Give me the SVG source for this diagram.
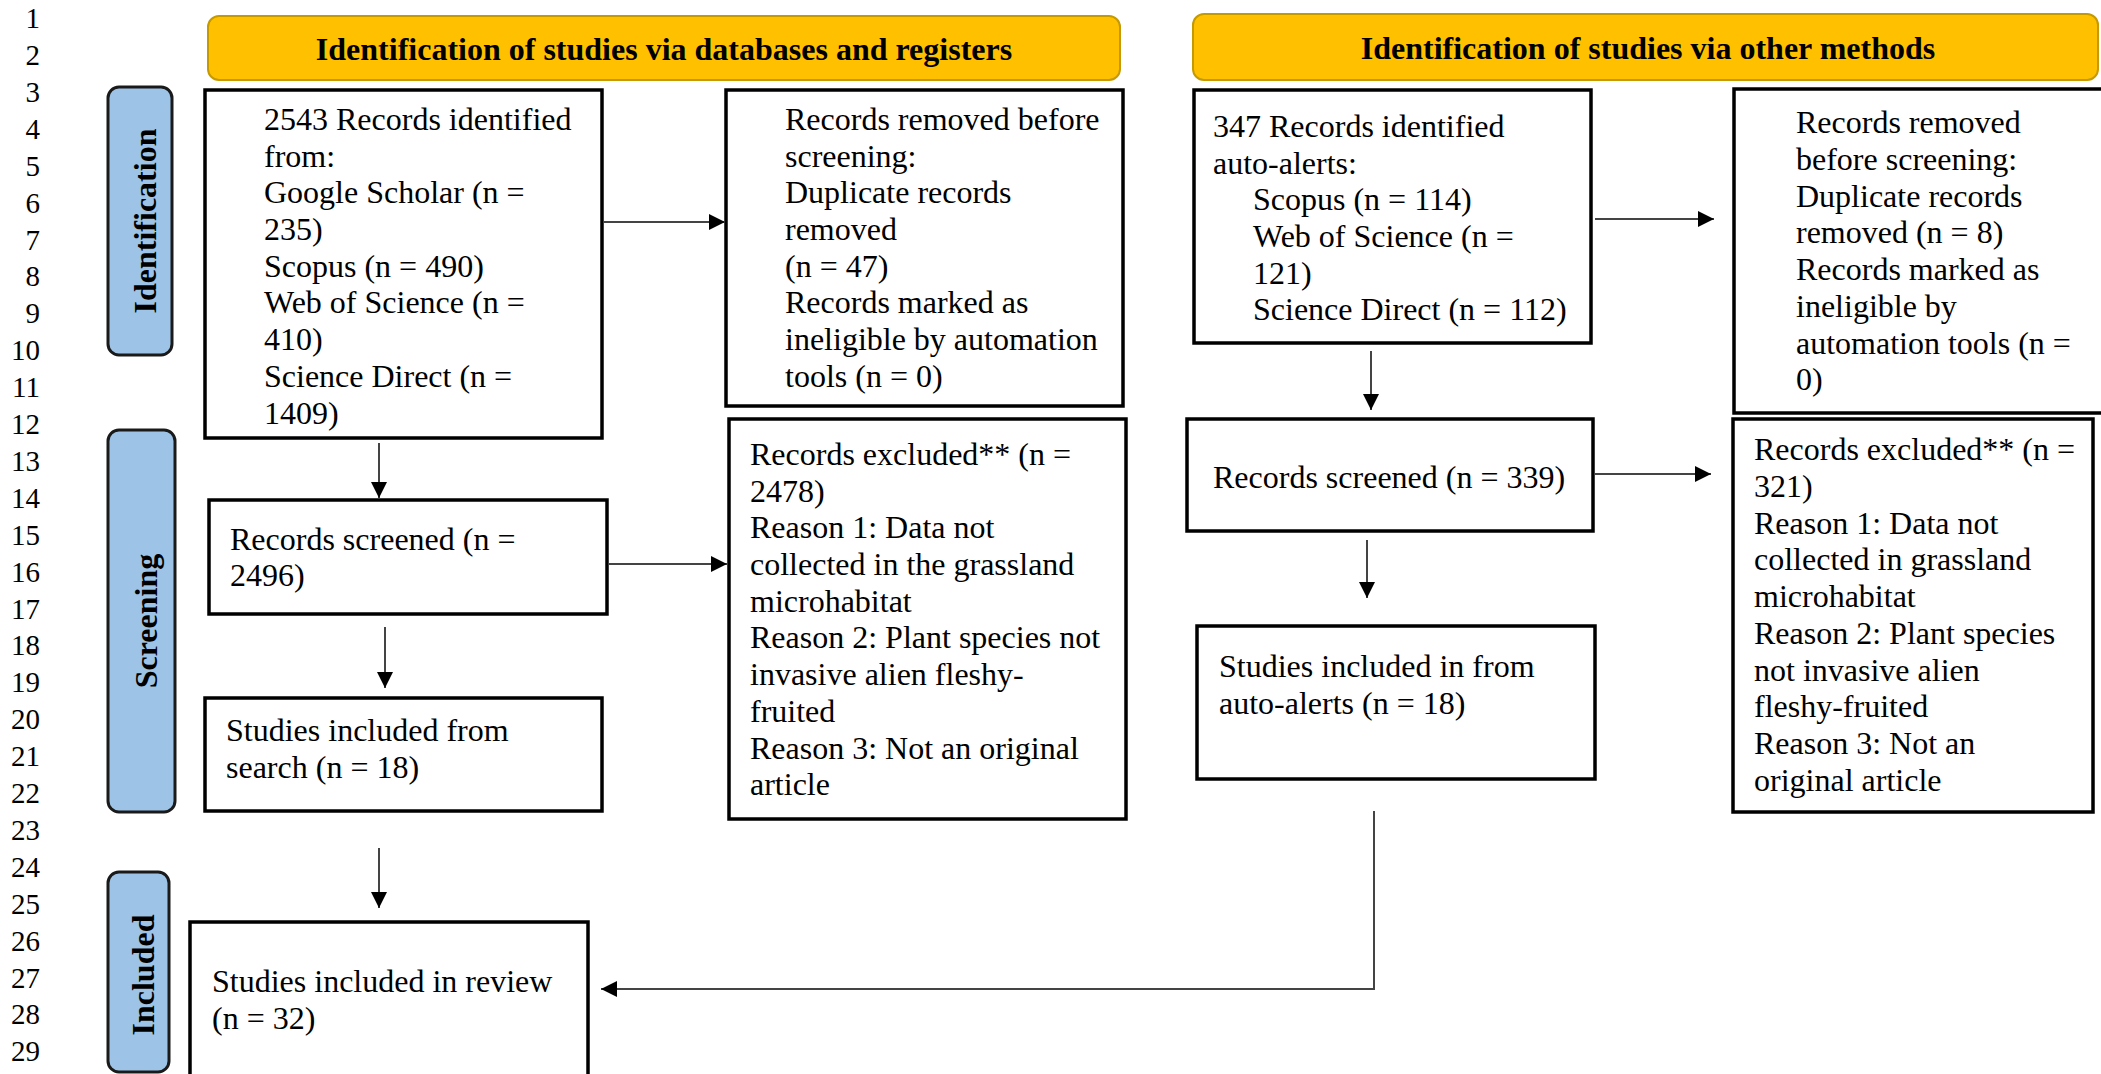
<svg xmlns="http://www.w3.org/2000/svg" width="2101" height="1074" viewBox="0 0 2101 1074">
<style>
  .ln { font-family: "Liberation Serif", "Times New Roman", serif; font-size: 29px; fill: #000; text-anchor: end; }
  .t { font-family: "Liberation Serif", "Times New Roman", serif; font-size: 32px; fill: #000; }
  .hd { font-family: "Liberation Serif", "Times New Roman", serif; font-size: 32px; font-weight: bold; fill: #000; text-anchor: middle; }
  .side { font-family: "Liberation Serif", "Times New Roman", serif; font-size: 32px; font-weight: bold; fill: #000; text-anchor: middle; }
  .box { fill: #fff; stroke: #000; stroke-width: 3.5; }
  .hdr { fill: #FFC000; stroke: #C49A00; stroke-width: 2; }
  .lab { fill: #9DC3E6; stroke: #1a1a1a; stroke-width: 3; }
  .con { fill: none; stroke: #444; stroke-width: 2; }
</style>
<defs>
  <marker id="ah" viewBox="0 0 16 16" refX="16" refY="8" markerWidth="16" markerHeight="16" markerUnits="userSpaceOnUse" orient="auto">
    <path d="M0,0 L16,8 L0,16 z" fill="#000"/>
  </marker>
</defs>
<rect width="2101" height="1074" fill="#fff"/>

<g id="line-numbers" class="ln">
  <text x="40" y="28">1</text>
  <text x="40" y="65">2</text>
  <text x="40" y="102">3</text>
  <text x="40" y="139">4</text>
  <text x="40" y="176">5</text>
  <text x="40" y="213">6</text>
  <text x="40" y="250">7</text>
  <text x="40" y="286">8</text>
  <text x="40" y="323">9</text>
  <text x="40" y="360">10</text>
  <text x="40" y="397">11</text>
  <text x="40" y="434">12</text>
  <text x="40" y="471">13</text>
  <text x="40" y="508">14</text>
  <text x="40" y="545">15</text>
  <text x="40" y="582">16</text>
  <text x="40" y="619">17</text>
  <text x="40" y="655">18</text>
  <text x="40" y="692">19</text>
  <text x="40" y="729">20</text>
  <text x="40" y="766">21</text>
  <text x="40" y="803">22</text>
  <text x="40" y="840">23</text>
  <text x="40" y="877">24</text>
  <text x="40" y="914">25</text>
  <text x="40" y="951">26</text>
  <text x="40" y="988">27</text>
  <text x="40" y="1024">28</text>
  <text x="40" y="1061">29</text>
</g>

<g id="header-databases">
  <rect class="hdr" x="208" y="16" width="912" height="64" rx="11"/>
  <text class="hd" x="664" y="60">Identification of studies via databases and registers</text>
</g>
<g id="header-other">
  <rect class="hdr" x="1193" y="14" width="905" height="66" rx="11"/>
  <text class="hd" x="1648" y="59">Identification of studies via other methods</text>
</g>

<g id="label-identification">
  <rect class="lab" x="108" y="87" width="64" height="268" rx="11"/>
  <text class="side" transform="translate(156,221) rotate(-90)">Identification</text>
</g>
<g id="label-screening">
  <rect class="lab" x="108" y="430" width="67" height="382" rx="11"/>
  <text class="side" transform="translate(157,621) rotate(-90)">Screening</text>
</g>
<g id="label-included">
  <rect class="lab" x="108" y="872" width="61" height="200" rx="11"/>
  <text class="side" transform="translate(154,975) rotate(-90)">Included</text>
</g>

<g id="box-records-identified">
  <rect class="box" x="205" y="90" width="397" height="348"/>
  <text class="t" x="264" y="130">2543 Records identified</text>
  <text class="t" x="264" y="167">from:</text>
  <text class="t" x="264" y="203">Google Scholar (n =</text>
  <text class="t" x="264" y="240">235)</text>
  <text class="t" x="264" y="277">Scopus (n = 490)</text>
  <text class="t" x="264" y="313">Web of Science (n =</text>
  <text class="t" x="264" y="350">410)</text>
  <text class="t" x="264" y="387">Science Direct (n =</text>
  <text class="t" x="264" y="424">1409)</text>
</g>

<g id="box-removed-db">
  <rect class="box" x="726" y="90" width="397" height="316"/>
  <text class="t" x="785" y="130">Records removed before</text>
  <text class="t" x="785" y="167">screening:</text>
  <text class="t" x="785" y="203">Duplicate records</text>
  <text class="t" x="785" y="240">removed</text>
  <text class="t" x="785" y="277">(n = 47)</text>
  <text class="t" x="785" y="313">Records marked as</text>
  <text class="t" x="785" y="350">ineligible by automation</text>
  <text class="t" x="785" y="387">tools (n = 0)</text>
</g>

<g id="box-screened-db">
  <rect class="box" x="209" y="500" width="398" height="114"/>
  <text class="t" x="230" y="550">Records screened (n =</text>
  <text class="t" x="230" y="586">2496)</text>
</g>

<g id="box-excluded-db">
  <rect class="box" x="729" y="419" width="397" height="400"/>
  <text class="t" x="750" y="465">Records excluded** (n =</text>
  <text class="t" x="750" y="502">2478)</text>
  <text class="t" x="750" y="538">Reason 1: Data not</text>
  <text class="t" x="750" y="575">collected in the grassland</text>
  <text class="t" x="750" y="612">microhabitat</text>
  <text class="t" x="750" y="648">Reason 2: Plant species not</text>
  <text class="t" x="750" y="685">invasive alien fleshy-</text>
  <text class="t" x="750" y="722">fruited</text>
  <text class="t" x="750" y="759">Reason 3: Not an original</text>
  <text class="t" x="750" y="795">article</text>
</g>

<g id="box-included-search">
  <rect class="box" x="205" y="698" width="397" height="113"/>
  <text class="t" x="226" y="741">Studies included from</text>
  <text class="t" x="226" y="778">search (n = 18)</text>
</g>

<g id="box-included-review">
  <rect class="box" x="190" y="922" width="398" height="160"/>
  <text class="t" x="212" y="992">Studies included in review</text>
  <text class="t" x="212" y="1029">(n = 32)</text>
</g>

<g id="box-records-alerts">
  <rect class="box" x="1194" y="90" width="397" height="253"/>
  <text class="t" x="1213" y="137">347 Records identified</text>
  <text class="t" x="1213" y="174">auto-alerts:</text>
  <text class="t" x="1253" y="210">Scopus (n = 114)</text>
  <text class="t" x="1253" y="247">Web of Science (n =</text>
  <text class="t" x="1253" y="284">121)</text>
  <text class="t" x="1253" y="320">Science Direct (n = 112)</text>
</g>

<g id="box-removed-other">
  <rect class="box" x="1734" y="89" width="380" height="324"/>
  <text class="t" x="1796" y="133">Records removed</text>
  <text class="t" x="1796" y="170">before screening:</text>
  <text class="t" x="1796" y="207">Duplicate records</text>
  <text class="t" x="1796" y="243">removed (n = 8)</text>
  <text class="t" x="1796" y="280">Records marked as</text>
  <text class="t" x="1796" y="317">ineligible by</text>
  <text class="t" x="1796" y="354">automation tools (n =</text>
  <text class="t" x="1796" y="390">0)</text>
</g>

<g id="box-screened-other">
  <rect class="box" x="1187" y="419" width="406" height="112"/>
  <text class="t" x="1213" y="488">Records screened (n = 339)</text>
</g>

<g id="box-excluded-other">
  <rect class="box" x="1733" y="419" width="360" height="393"/>
  <text class="t" x="1754" y="460">Records excluded** (n =</text>
  <text class="t" x="1754" y="497">321)</text>
  <text class="t" x="1754" y="534">Reason 1: Data not</text>
  <text class="t" x="1754" y="570">collected in grassland</text>
  <text class="t" x="1754" y="607">microhabitat</text>
  <text class="t" x="1754" y="644">Reason 2: Plant species</text>
  <text class="t" x="1754" y="681">not invasive alien</text>
  <text class="t" x="1754" y="717">fleshy-fruited</text>
  <text class="t" x="1754" y="754">Reason 3: Not an</text>
  <text class="t" x="1754" y="791">original article</text>
</g>

<g id="box-included-alerts">
  <rect class="box" x="1197" y="626" width="398" height="153"/>
  <text class="t" x="1219" y="677">Studies included in from</text>
  <text class="t" x="1219" y="714">auto-alerts (n = 18)</text>
</g>

<g id="connectors" class="con">
  <path d="M604,222 L725,222" marker-end="url(#ah)"/>
  <path d="M379,443 L379,498" marker-end="url(#ah)"/>
  <path d="M609,564 L727,564" marker-end="url(#ah)"/>
  <path d="M385,627 L385,688" marker-end="url(#ah)"/>
  <path d="M379,848 L379,908" marker-end="url(#ah)"/>
  <path d="M1595,219 L1714,219" marker-end="url(#ah)"/>
  <path d="M1371,351 L1371,410" marker-end="url(#ah)"/>
  <path d="M1595,474 L1711,474" marker-end="url(#ah)"/>
  <path d="M1367,540 L1367,598" marker-end="url(#ah)"/>
  <path d="M1374,811 L1374,989 L601,989" marker-end="url(#ah)"/>
</g>
</svg>
